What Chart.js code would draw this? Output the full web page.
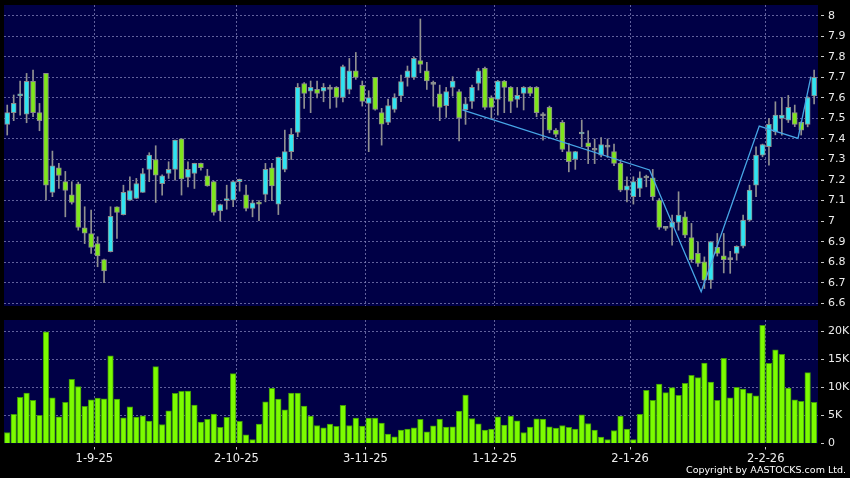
<!DOCTYPE html>
<html><head><meta charset="utf-8">
<script src="https://cdn.jsdelivr.net/npm/chart.js@4.4.1/dist/chart.umd.min.js"></script>
<style>
html,body{margin:0;padding:0;background:#000;}
#wrap{position:relative;width:850px;height:478px;background:#000;overflow:hidden;}
#pc{position:absolute;left:0;top:0;}
#vc{position:absolute;left:0;top:310px;}
#copy{position:absolute;right:4px;top:465px;font:9.5px "DejaVu Sans";line-height:10px;color:#fff;white-space:nowrap;}
</style></head><body>
<div id="wrap">
<canvas id="pc" width="850" height="310"></canvas>
<canvas id="vc" width="850" height="168"></canvas>
<div id="copy">Copyright by AASTOCKS.com Ltd.</div>
</div>
<script>
// ---- data ----
const dates = [
'13-8-25','14-8-25','15-8-25','18-8-25','19-8-25','20-8-25','21-8-25','22-8-25','25-8-25','26-8-25','27-8-25','28-8-25','29-8-25',
'1-9-25','2-9-25','3-9-25','4-9-25','5-9-25','8-9-25','9-9-25','10-9-25','11-9-25','12-9-25','15-9-25','16-9-25','17-9-25','18-9-25','19-9-25','22-9-25','23-9-25','24-9-25','25-9-25','26-9-25','29-9-25','30-9-25',
'2-10-25','3-10-25','6-10-25','8-10-25','9-10-25','10-10-25','13-10-25','14-10-25','15-10-25','16-10-25','17-10-25','20-10-25','21-10-25','22-10-25','23-10-25','24-10-25','27-10-25','28-10-25','30-10-25','31-10-25',
'3-11-25','4-11-25','5-11-25','6-11-25','7-11-25','10-11-25','11-11-25','12-11-25','13-11-25','14-11-25','17-11-25','18-11-25','19-11-25','20-11-25','21-11-25','24-11-25','25-11-25','26-11-25','27-11-25','28-11-25',
'1-12-25','2-12-25','3-12-25','4-12-25','5-12-25','8-12-25','9-12-25','10-12-25','11-12-25','12-12-25','15-12-25','16-12-25','17-12-25','18-12-25','19-12-25','22-12-25','23-12-25','24-12-25','29-12-25','30-12-25','31-12-25',
'2-1-26','5-1-26','6-1-26','7-1-26','8-1-26','9-1-26','12-1-26','13-1-26','14-1-26','15-1-26','16-1-26','19-1-26','20-1-26','21-1-26','22-1-26','23-1-26','26-1-26','27-1-26','28-1-26','29-1-26','30-1-26',
'2-2-26','3-2-26','4-2-26','5-2-26','6-2-26','9-2-26','10-2-26','11-2-26','12-2-26'
];
const open = [
7.471,7.528,7.61,7.521,7.68,7.528,7.719,7.14,7.26,7.192,
7.128,7.182,6.968,6.94,6.891,6.813,6.851,7.07,7.032,7.102,
7.11,7.14,7.252,7.30,7.183,7.232,7.252,7.401,7.213,7.232,
7.281,7.221,7.192,7.05,7.10,7.102,7.192,7.128,7.062,7.092,
7.13,7.26,7.083,7.252,7.338,7.432,7.67,7.633,7.641,7.633,
7.641,7.651,7.602,7.641,7.732,7.661,7.573,7.70,7.528,7.481,
7.544,7.61,7.70,7.70,7.782,7.732,7.666,7.62,7.562,7.651,
7.631,7.542,7.583,7.67,7.744,7.602,7.593,7.682,7.651,7.593,
7.622,7.651,7.651,7.512,7.554,7.443,7.481,7.338,7.30,7.424,
7.381,7.345,7.321,7.36,7.338,7.281,7.151,7.119,7.159,7.21,
7.211,7.102,6.965,6.969,6.994,7.021,6.92,6.843,6.802,6.713,
6.872,6.831,6.813,6.843,6.878,7.005,7.175,7.321,7.362,7.435,
7.50,7.492,7.528,7.481,7.471,7.61];
const close = [
7.528,7.573,7.62,7.68,7.528,7.489,7.175,7.269,7.222,7.149,
7.091,6.969,6.942,6.872,6.831,6.758,7.023,7.042,7.14,7.149,
7.183,7.232,7.321,7.224,7.221,7.252,7.394,7.205,7.252,7.281,
7.26,7.172,7.042,7.081,7.11,7.192,7.203,7.062,7.089,7.083,
7.252,7.172,7.31,7.338,7.422,7.651,7.622,7.651,7.622,7.651,
7.641,7.602,7.752,7.732,7.70,7.583,7.602,7.544,7.472,7.562,
7.602,7.679,7.732,7.792,7.763,7.682,7.666,7.554,7.631,7.682,
7.502,7.571,7.651,7.732,7.554,7.554,7.682,7.651,7.583,7.612,
7.651,7.622,7.528,7.512,7.443,7.422,7.349,7.289,7.338,7.43,
7.362,7.345,7.373,7.36,7.281,7.151,7.172,7.192,7.211,7.21,
7.119,6.969,6.965,6.994,7.029,6.932,6.813,6.794,6.713,6.899,
6.843,6.813,6.813,6.878,7.005,7.151,7.321,7.373,7.471,7.516,
7.516,7.554,7.471,7.443,7.601,7.70];
const high = [
7.565,7.614,7.682,7.719,7.735,7.573,7.72,7.341,7.281,7.242,
7.192,7.19,7.07,7.054,6.924,6.815,7.07,7.07,7.175,7.216,
7.208,7.256,7.333,7.367,7.225,7.289,7.395,7.401,7.289,7.282,
7.282,7.252,7.195,7.083,7.175,7.195,7.205,7.175,7.102,7.10,
7.281,7.281,7.312,7.443,7.451,7.67,7.675,7.682,7.682,7.67,
7.662,7.655,7.76,7.792,7.821,7.682,7.635,7.70,7.549,7.594,
7.62,7.711,7.755,7.80,7.984,7.773,7.682,7.662,7.651,7.703,
7.64,7.602,7.662,7.744,7.75,7.61,7.685,7.685,7.655,7.651,
7.655,7.655,7.655,7.528,7.56,7.45,7.49,7.378,7.34,7.492,
7.44,7.40,7.407,7.40,7.375,7.29,7.216,7.216,7.24,7.224,
7.252,7.11,6.97,7.029,7.143,7.045,6.989,6.899,6.826,6.90,
6.94,6.94,6.853,6.88,7.029,7.175,7.362,7.375,7.50,7.581,
7.602,7.612,7.565,7.484,7.606,7.735];
const low = [
7.419,7.489,7.516,7.479,7.508,7.44,7.102,7.119,7.159,7.021,
7.083,6.956,6.891,6.843,6.778,6.70,6.85,6.916,7.03,7.10,
7.11,7.14,7.192,7.091,7.127,7.208,7.20,7.127,7.167,7.159,
7.248,7.17,7.029,7.002,7.058,7.07,7.146,7.05,7.021,7.002,
7.094,7.10,7.032,7.24,7.30,7.411,7.549,7.528,7.60,7.581,
7.549,7.554,7.58,7.619,7.69,7.56,7.338,7.54,7.37,7.47,
7.53,7.581,7.657,7.69,7.722,7.641,7.56,7.489,7.505,7.609,
7.391,7.471,7.549,7.638,7.544,7.50,7.516,7.528,7.528,7.554,
7.541,7.61,7.508,7.394,7.43,7.41,7.338,7.24,7.252,7.362,
7.28,7.28,7.313,7.31,7.27,7.143,7.094,7.083,7.119,7.167,
7.102,6.96,6.955,6.883,6.956,6.92,6.80,6.78,6.672,6.672,
6.83,6.748,6.746,6.81,6.87,7.0,7.119,7.313,7.273,7.42,
7.419,7.48,7.46,7.419,7.459,7.57];
const volume = [
1960,5180,8210,8990,7680,5000,19880,8150,4760,7320,
11430,10120,6610,7800,8100,7970,15600,7910,4580,6550,
4700,4940,3990,13690,3390,5830,8930,9290,9350,6850,
3810,4290,5240,2860,4640,12440,3930,1550,710,3450,
7440,9820,7910,6010,8990,8990,6670,4880,3210,2800,
3450,3040,6790,3210,4520,3100,4520,4520,3630,1670,
1190,2380,2560,2800,4290,2080,3150,4350,2920,2980,
5770,8630,4460,3510,2380,2560,4760,3270,4880,4050,
1960,2920,4400,4350,2980,2740,3210,2860,2560,5120,
3570,2380,1130,710,2320,4880,2560,710,5180,9460,
7680,10590,9050,9940,8570,10710,12140,11730,14340,10950,
7680,15180,8150,10000,9700,8990,8510,21070,14290,16670,
15890,9880,7800,7500,12620,7320];
// zigzag indicator turning points (bar index, price)
const zigIdx = [71,100,108,117,123,125];
const zigVal = [7.541,7.249,6.656,7.463,7.403,7.703];
// axis ticks
const xTickIdx = [13,35,55,75,96,117];
const xTickLabels = ['1-9-25','2-10-25','3-11-25','1-12-25','2-1-26','2-2-26'];
const priceTicks = [6.6,6.7,6.8,6.9,7.0,7.1,7.2,7.3,7.4,7.5,7.6,7.7,7.8,7.9,8.0];
const volTicks = [0,5000,10000,15000,20000];
const volTickLabels = ['0','5K','10K','15K','20K'];

// ---- styles ----
const UP='#2fe4f2', DOWN='#7fe61c', FLAT='#8a9a9a', EDGE='#8c8c8c';
const PANEL='#000046', GRID='rgba(130,130,185,0.75)', TXT='#ececec';
const FONT='"DejaVu Sans", Verdana, sans-serif';
const XMIN=-0.5, XMAX=125.6;

const panelBg = {id:'panelBg', beforeDraw(c){const a=c.chartArea, x=c.ctx; x.save(); x.fillStyle=PANEL; x.fillRect(a.left,a.top,a.right-a.left,a.bottom-a.top); x.restore();}};
function noPad(s){ s.paddingTop=0; s.paddingBottom=0; s.paddingLeft=0; s.paddingRight=0; }

function xAxis(showLabels){
  return {
    type:'linear', min:XMIN, max:XMAX, position:'bottom', offset:false,
    afterBuildTicks(s){ s.ticks = xTickIdx.map(i=>({value:i+0.5})); },
    afterFit(s){ s.height = showLabels ? 34.5 : 0; noPad(s); },
    grid:{offset:false, color:GRID, lineWidth:1, drawTicks:showLabels, tickLength:6, tickColor:'#c8c8c8', tickWidth:1, tickBorderDash:[0,3,3,50]},
    border:{display:false, dash:[2,2]},
    ticks:{display:showLabels, autoSkip:false, maxRotation:0, padding:3, color:TXT, font:{family:FONT,size:11.5},
      callback:(v,i)=>xTickLabels[i]}
  };
}

const bodyColors = open.map((o,i)=> close[i]>o ? UP : (close[i]<o ? DOWN : FLAT));

new Chart(document.getElementById('pc'), {
  data:{
    datasets:[
      {type:'line', label:'zigzag', data:zigIdx.map((k,j)=>({x:k-0.5, y:zigVal[j]})),
        borderColor:'#47a6e6', borderWidth:1.3, pointRadius:0, tension:0, fill:false},
      {type:'bar', label:'body', data:open.map((o,i)=>({x:i, y:[o, close[i]]})),
        backgroundColor:bodyColors, borderColor:EDGE, borderWidth:1, borderSkipped:false,
        barThickness:5, grouped:false, minBarLength:2},
      {type:'bar', label:'wick', data:low.map((l,i)=>({x:i, y:[l, high[i]]})),
        backgroundColor:'#909090', borderWidth:0, barThickness:1, grouped:false}
    ]
  },
  options:{
    responsive:false, animation:false, devicePixelRatio:1,
    layout:{padding:{left:4, top:5, right:0, bottom:4}},
    plugins:{legend:{display:false}, tooltip:{enabled:false}},
    scales:{
      x: xAxis(false),
      y:{type:'linear', position:'right', min:6.587, max:8.052,
        afterBuildTicks(s){ s.ticks = priceTicks.map(v=>({value:v})); },
        afterFit(s){ s.width = 32; noPad(s); },
        grid:{color:GRID, lineWidth:1, drawTicks:true, tickLength:7, tickColor:'#c8c8c8', tickBorderDash:[0,3,3,50]},
        border:{display:false, dash:[2,2]},
        ticks:{autoSkip:false, padding:3, color:TXT, font:{family:FONT,size:11},
          callback:(v)=>String(Number(v.toFixed(1)))}
      }
    }
  },
  plugins:[panelBg]
});

new Chart(document.getElementById('vc'), {
  data:{
    datasets:[
      {type:'bar', label:'volume', data:volume.map((v,i)=>({x:i, y:v})),
        backgroundColor:'#7cfc00', borderColor:'#3f9a08', borderWidth:1, borderSkipped:'bottom',
        barThickness:5.6, grouped:false}
    ]
  },
  options:{
    responsive:false, animation:false, devicePixelRatio:1,
    layout:{padding:{left:4, top:10, right:0, bottom:0}},
    plugins:{legend:{display:false}, tooltip:{enabled:false}},
    scales:{
      x: xAxis(true),
      y:{type:'linear', position:'right', min:0, max:22000,
        afterBuildTicks(s){ s.ticks = volTicks.map(v=>({value:v})); },
        afterFit(s){ s.width = 32; noPad(s); },
        grid:{color:(c)=> (c.tick && c.tick.value===0) ? 'rgba(0,0,0,0)' : GRID, lineWidth:1, drawTicks:true, tickLength:7, tickColor:'#c8c8c8', tickBorderDash:[0,3,3,50]},
        border:{display:false, dash:[2,2]},
        ticks:{autoSkip:false, padding:3, color:TXT, font:{family:FONT,size:11},
          callback:(v,i)=>volTickLabels[i]}
      }
    }
  },
  plugins:[panelBg]
});
</script>
</body></html>
